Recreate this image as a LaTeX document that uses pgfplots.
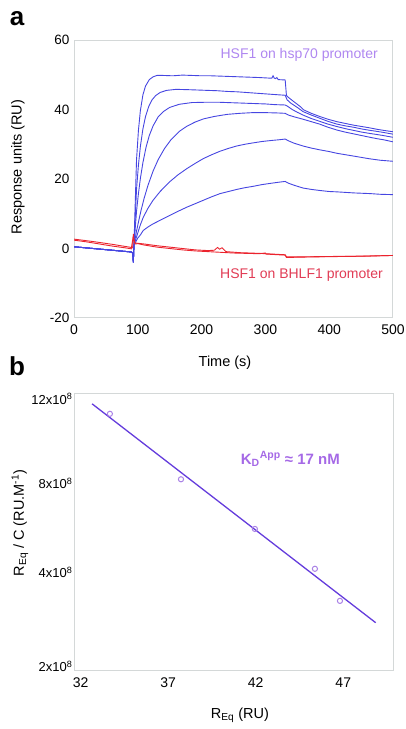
\documentclass[border=0pt]{standalone}
\usepackage{fontspec}
\setmainfont{Liberation Sans}
\usepackage{pgfplots}
\pgfplotsset{compat=1.18}
\definecolor{cblue}{RGB}{70,70,225}
\definecolor{cred}{RGB}{235,35,45}
\definecolor{lav}{RGB}{175,135,240}
\definecolor{redlab}{RGB}{225,60,85}
\definecolor{fitc}{RGB}{100,60,220}
\definecolor{ptc}{RGB}{170,130,230}
\definecolor{kdc}{RGB}{165,105,230}
\definecolor{framec}{RGB}{212,216,216}
\begin{document}
\begin{tikzpicture}[x=1pt,y=1pt]
\useasboundingbox (0,0) rectangle (405,729);
% panel a
\begin{axis}[at={(74pt,411pt)}, anchor=south west, width=319pt, height=278pt, scale only axis,
  xmin=0, xmax=500, ymin=-20, ymax=60,
  xtick={0,100,...,500}, ytick={-20,0,20,40,60},
  major tick length=0, axis line style={framec, line width=1pt},
  xticklabel style={font=\fontsize{14}{16}\selectfont, yshift=-3pt},
  yticklabel style={font=\fontsize{13.5}{15}\selectfont, xshift=-1pt},
  /pgf/number format/assume math mode=true]
% blue curves
\addplot[cblue, line width=0.9pt] coordinates {(0,0.5)(30,0)(60,-0.5)(90,-1.0)(92,-1.3)(93,-4)(94,1)
(98,25.5)(101,34)(104,39.6)(108,44.2)(112,46.7)(118,48.6)(124,49.4)(130,49.8)(140,49.8)(155,49.7)(170,49.9)(185,49.8)(200,49.7)(215,49.7)(230,49.6)(245,49.5)(260,49.4)(275,49.3)(290,49.2)(300,49.1)(310,49.0)(312,49.7)(314,49.0)(316,48.9)(318,49.2)(320,48.6)(331,48.5)(333,44.0)(336,43.5)(345,42.2)(355,40.8)(360,39.9)(372,38.9)(385,38.0)(398,37.2)(412,36.5)(425,36.0)(438,35.5)(451,35.1)(464,34.7)(475,34.3)(485,34.0)(500,33.6)};
\addplot[cblue, line width=0.9pt] coordinates {(0,0.5)(30,0)(60,-0.5)(90,-1.0)(92,-1.3)(93,-4)(94,1)
(98,17.0)(101,24.0)(104,29.3)(108,34.4)(112,37.9)(117,40.8)(122,42.7)(128,44.0)(135,44.9)(145,45.5)(160,45.8)(180,45.7)(195,45.6)(210,45.5)(225,45.4)(240,45.2)(255,45.1)(270,44.9)(285,44.7)(300,44.5)(315,44.3)(331,44.1)(334,42.8)(340,41.8)(350,40.6)(359,39.4)(372,38.4)(385,37.5)(398,36.6)(412,35.8)(425,35.3)(438,34.9)(451,34.4)(464,34.0)(475,33.7)(485,33.4)(500,32.9)};
\addplot[cblue, line width=0.9pt] coordinates {(0,0.5)(30,0)(60,-0.5)(90,-1.0)(92,-1.3)(93,-4)(94,1)
(98,10.7)(101,15.8)(104,20.1)(108,24.7)(113,29.2)(118,32.5)(124,35.3)(132,37.9)(140,39.4)(150,40.6)(165,41.5)(185,42.0)(210,42.1)(225,42.1)(240,42.0)(255,41.9)(270,41.8)(285,41.7)(300,41.6)(315,41.4)(331,41.3)(335,40.9)(342,40.0)(350,39.2)(359,38.4)(372,37.4)(385,36.6)(398,35.8)(412,35.1)(425,34.5)(438,34.0)(451,33.5)(464,33.1)(475,32.8)(485,32.5)(500,32.0)};
\addplot[cblue, line width=0.9pt] coordinates {(0,0.5)(30,0)(60,-0.5)(90,-1.0)(92,-1.3)(93,-4)(94,1)
(98,5.0)(101,7.6)(105,10.9)(110,14.5)(116,18.2)(124,22.3)(132,25.6)(142,28.8)(152,31.3)(165,33.7)(177,35.2)(190,36.4)(203,37.3)(220,38.0)(240,38.6)(260,38.9)(280,39.1)(300,39.1)(320,39.0)(331,38.9)(336,38.4)(345,37.9)(359,37.2)(372,36.5)(385,35.8)(398,34.9)(412,34.1)(425,33.5)(438,33.0)(451,32.5)(464,32.0)(475,31.6)(485,31.3)(500,30.7)};
\addplot[cblue, line width=0.9pt] coordinates {(0,0.5)(30,0)(60,-0.5)(90,-1.0)(92,-1.3)(93,-4)(94,1)
(100,4.5)(104,6.8)(108.6,9.0)(116,11.6)(124,13.9)(135,16.4)(150,19.2)(163,21.2)(177,23.0)(190,24.5)(203,25.9)(216,27.0)(229,28.0)(242,28.8)(255,29.5)(268,30.0)(281,30.4)(295,30.8)(310,31.1)(322,31.3)(331,31.5)(336,31.0)(345,30.3)(359,29.5)(372,28.9)(385,28.4)(400,27.9)(412,27.4)(425,27.0)(438,26.6)(451,26.2)(464,25.8)(480,25.4)(500,25.1)};
\addplot[cblue, line width=0.9pt] coordinates {(0,0.5)(30,0)(60,-0.5)(90,-1.0)(92,-1.3)(93,-4)(94,1)
(100,3.0)(104,3.9)(108.6,5.2)(116,6.2)(124,7.1)(137,8.3)(150,9.5)(163,10.7)(177,11.9)(190,12.9)(203,13.9)(216,14.9)(229,15.8)(242,16.4)(255,17.0)(268,17.5)(281,17.9)(295,18.4)(310,18.8)(322,19.1)(331,19.3)(336,18.8)(345,18.2)(359,17.4)(372,17.0)(385,16.7)(400,16.4)(412,16.3)(438,16.0)(464,15.8)(480,15.6)(500,15.5)};
% red curves
\addplot[cred, line width=0.9pt] coordinates {(0,2.4)(20,1.9)(40,1.3)(60,0.7)(80,0.2)(90,-0.1)(92,0.5)(93,4.2)(94,2.5)(96,1.3)(100,1.4)(110,1.0)(130,0.4)(150,0.0)(170,-0.4)(190,-0.7)(210,-0.9)(230,-1.1)(250,-1.3)(270,-1.4)(290,-1.5)(300,-1.3)(301,-1.6)(320,-1.8)(331,-1.9)(333,-2.6)(350,-2.5)(380,-2.4)(420,-2.3)(460,-2.2)(500,-2.0)};
\addplot[cred, line width=0.9pt] coordinates {(0,2.7)(30,2.0)(60,1.2)(90,0.3)(93,3.5)(95,1.6)(110,1.3)(130,0.8)(150,0.4)(170,0.0)(190,-0.4)(210,-0.6)(220,-0.5)(225,0.3)(228,-0.2)(232,0.2)(238,-0.9)(260,-1.2)(290,-1.4)(331,-1.8)(333,-2.4)(360,-2.4)(400,-2.3)(450,-2.2)(500,-2.0)};
\end{axis}
% panel b
\begin{axis}[at={(74pt,58pt)}, anchor=south west, width=319pt, height=277pt, scale only axis,
  xmin=31.62, xmax=49.84, ymin=-0.22, ymax=12.22,
  xtick={32,37,42,47}, ytick={0,4.2,8.2,12},
  yticklabels={2x10\textsuperscript{8},4x10\textsuperscript{8},8x10\textsuperscript{8},12x10\textsuperscript{8}},
  major tick length=0, axis line style={framec, line width=1pt},
  xticklabel style={font=\fontsize{14}{16}\selectfont, yshift=-3pt},
  yticklabel style={font=\fontsize{13}{15}\selectfont, xshift=2pt},
  /pgf/number format/assume math mode=true]
\addplot[fitc, line width=1.3pt] coordinates {(32.65,11.78)(48.85,1.95)};
\addplot[only marks, mark=o, mark size=2.6pt, ptc, line width=1pt] coordinates {(33.67,11.33)(37.73,8.39)(41.95,6.16)(45.38,4.37)(46.81,2.93)};
\end{axis}
% texts
\node[font=\fontsize{26}{28}\bfseries\selectfont] at (17,710) {a};
\node[font=\fontsize{26}{28}\bfseries\selectfont] at (17,363) {b};
\node[font=\fontsize{14.5}{16}\selectfont, rotate=90] at (18,562) {Response units (RU)};
\node[font=\fontsize{14.5}{16}\selectfont] at (225,366) {Time (s)};
\node[font=\fontsize{14}{16}\selectfont, text=lav, anchor=east, inner sep=0pt] at (378,674) {HSF1 on hsp70 promoter};
\node[font=\fontsize{14}{16}\selectfont, text=redlab, anchor=east, inner sep=0pt] at (383,454) {HSF1 on BHLF1 promoter};
\node[font=\fontsize{14.5}{16}\selectfont, rotate=90] at (20,206) {R\textsubscript{Eq} / C (RU.M\textsuperscript{-1})};
\node[font=\fontsize{14.5}{16}\selectfont] at (240,14) {R\textsubscript{Eq} (RU)};
\node[font=\fontsize{15}{17}\bfseries\selectfont, text=kdc, anchor=west, inner sep=0pt] at (240.7,270) {K\textsubscript{D}\textsuperscript{App} ≈ 17 nM};
\end{tikzpicture}
\end{document}
